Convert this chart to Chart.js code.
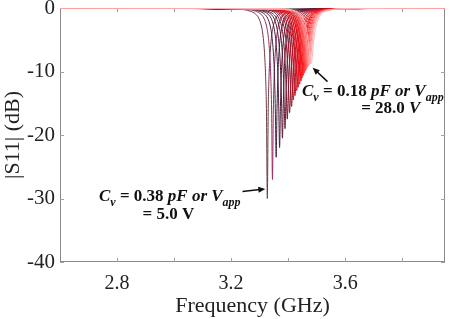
<!DOCTYPE html>
<html><head><meta charset="utf-8">
<script src="https://cdn.jsdelivr.net/npm/chart.js@4.4.1/dist/chart.umd.min.js"></script>
<style>html,body{margin:0;padding:0;background:#fff;}#wrap{width:450px;height:319px;position:relative}</style>
</head><body><div id="wrap"><canvas id="c" width="450" height="319"></canvas></div>
<script>
// ---- data ----
const voltages = [5,6,7,8,9,10,11,12,13,14,15,16,17,18,19,20,21,22,23,24,25,26,27,28];
// resonance frequency of each curve (GHz)
const centers = [3.327,3.345,3.358,3.370,3.380,3.389,3.397,3.405,3.412,3.418,3.424,3.430,
                 3.435,3.440,3.445,3.449,3.453,3.457,3.461,3.464,3.468,3.471,3.475,3.480];
// distance from the resonance (GHz) at which the half-profile values below are read
const halfOffsets = [0,0.003,0.006,0.01,0.014,0.02,0.03,0.04,0.06,0.1];
const farLevel = 0; // |S11| far from resonance (dB)
// |S11| (dB) half-profiles, centre outwards
const v05 = [-30,-16.4,-10.8,-7.0,-4.8,-3.0,-1.6,-1.0,-0.5,-0.2];
const v06 = [-27,-16.2,-10.7,-7.0,-4.8,-3.0,-1.6,-1.0,-0.5,-0.2];
const v07 = [-23.5,-15.8,-10.6,-6.9,-4.8,-3.0,-1.6,-1.0,-0.5,-0.2];
const v08 = [-22,-15.5,-10.5,-6.9,-4.8,-3.0,-1.6,-1.0,-0.5,-0.2];
const v09 = [-20.5,-15.1,-10.4,-6.8,-4.8,-3.0,-1.6,-1.0,-0.5,-0.2];
const v10 = [-19,-14.6,-10.3,-6.8,-4.7,-3.0,-1.6,-1.0,-0.5,-0.2];
const v11 = [-17.5,-14.0,-10.0,-6.7,-4.7,-2.9,-1.6,-0.9,-0.4,-0.2];
const v12 = [-16.5,-13.6,-9.9,-6.6,-4.6,-2.9,-1.6,-0.9,-0.4,-0.2];
const v13 = [-15.5,-13.0,-9.6,-6.5,-4.6,-2.9,-1.5,-0.9,-0.4,-0.2];
const v14 = [-14.5,-12.5,-9.4,-6.4,-4.5,-2.9,-1.5,-0.9,-0.4,-0.2];
const v15 = [-13.8,-12.0,-9.2,-6.3,-4.5,-2.8,-1.5,-0.9,-0.4,-0.2];
const v16 = [-13,-11.5,-8.9,-6.2,-4.4,-2.8,-1.5,-0.9,-0.4,-0.2];
const v17 = [-12.5,-11.1,-8.7,-6.1,-4.4,-2.8,-1.5,-0.9,-0.4,-0.2];
const v18 = [-12,-10.8,-8.5,-6.0,-4.3,-2.7,-1.5,-0.9,-0.4,-0.2];
const v19 = [-11.5,-10.4,-8.3,-5.9,-4.2,-2.7,-1.5,-0.9,-0.4,-0.2];
const v20 = [-11,-10.0,-8.1,-5.8,-4.2,-2.7,-1.4,-0.9,-0.4,-0.2];
const v21 = [-10.6,-9.7,-7.9,-5.7,-4.1,-2.6,-1.4,-0.9,-0.4,-0.2];
const v22 = [-10.2,-9.4,-7.7,-5.6,-4.1,-2.6,-1.4,-0.9,-0.4,-0.2];
const v23 = [-9.9,-9.1,-7.5,-5.5,-4.0,-2.6,-1.4,-0.9,-0.4,-0.2];
const v24 = [-9.6,-8.9,-7.4,-5.4,-4.0,-2.6,-1.4,-0.9,-0.4,-0.2];
const v25 = [-9.3,-8.6,-7.2,-5.3,-3.9,-2.5,-1.4,-0.8,-0.4,-0.2];
const v26 = [-9.1,-8.5,-7.1,-5.3,-3.9,-2.5,-1.4,-0.8,-0.4,-0.2];
const v27 = [-8.9,-8.3,-7.0,-5.2,-3.8,-2.5,-1.4,-0.8,-0.4,-0.2];
const v28 = [-8.8,-8.2,-6.9,-5.1,-3.8,-2.5,-1.3,-0.8,-0.4,-0.1];
const seriesValues = [v05,v06,v07,v08,v09,v10,v11,v12,v13,v14,v15,v16,v17,v18,v19,v20,v21,v22,v23,v24,v25,v26,v27,v28];

const xTickValues = [2.8,3.0,3.2,3.4,3.6,3.8];
const xLabelValues = [2.8,3.2,3.6];
const yTickValues = [0,-10,-20,-30,-40];
const xMin = 2.6, xMax = 3.95, yMin = -40, yMax = 0;

// ---- styles ----
const colors = ['#6b3b3f','#9a2a66','#402040','#4a1c38','#561a36','#641833','#741630','#86142c',
  '#981228','#aa1024','#bc0e20','#cc0c1c','#da0a18','#e60814','#f00610','#f8040c',
  '#ff1010','#ff2828','#ff4040','#ff5858','#ff7070','#ff8888','#ffa0a0','#ffb4b4'];
const FAM = '"Liberation Serif", "Times New Roman", serif';

const datasets = voltages.map((v, i) => {
  const half = seriesValues[i], c = centers[i];
  const pts = [{x: xMin, y: farLevel}];
  for (let j = half.length - 1; j >= 1; j--) pts.push({x: c - halfOffsets[j], y: half[j]});
  pts.push({x: c, y: half[0]});
  for (let j = 1; j < half.length; j++) pts.push({x: c + halfOffsets[j], y: half[j]});
  pts.push({x: xMax, y: farLevel});
  return {label: v + ' V', data: pts, borderColor: colors[i], borderWidth: 1,
    pointRadius: 0, fill: false, cubicInterpolationMode: 'monotone', order: voltages.length - i};
});

// annotations (anchored in data units)
const annotations = [
  {lines: [
     [{t:'C',it:1},{t:'v',it:1,sub:1},{t:' = 0.38 '},{t:'pF or V',it:1},{t:'app',it:1,sub:1}],
     [{t:'= 5.0 V'}]],
   textAt: [[2.985,-30.4],[2.980,-33.2]],
   arrowFrom: [3.240,-28.9], arrowTo: [3.320,-28.5]},
  {lines: [
     [{t:'C',it:1},{t:'v',it:1,sub:1},{t:' = 0.18 '},{t:'pF or V',it:1},{t:'app',it:1,sub:1}],
     [{t:'= 28.0 '},{t:'V',it:1}]],
   textAt: [[3.697,-13.8],[3.760,-16.5]],
   arrowFrom: [3.538,-11.6], arrowTo: [3.486,-9.4]}
];

function drawRich(ctx, segs, cx, baseline, size) {
  const fontOf = s => (s.it ? 'italic ' : '') + 'bold ' + (s.sub ? Math.round(size * 0.72) : size) + 'px ' + FAM;
  let w = 0;
  const ws = segs.map(s => { ctx.font = fontOf(s); const m = ctx.measureText(s.t).width; w += m; return m; });
  let x = cx - w / 2;
  segs.forEach((s, k) => { ctx.font = fontOf(s); ctx.fillText(s.t, x, baseline + (s.sub ? size * 0.3 : 0)); x += ws[k]; });
}
function drawArrow(ctx, x1, y1, x2, y2) {
  const a = Math.atan2(y2 - y1, x2 - x1), L = 7, W = 3;
  ctx.beginPath(); ctx.moveTo(x1, y1); ctx.lineTo(x2 - L * Math.cos(a) * 0.8, y2 - L * Math.sin(a) * 0.8); ctx.stroke();
  ctx.beginPath(); ctx.moveTo(x2, y2);
  ctx.lineTo(x2 - L * Math.cos(a) + W * Math.sin(a), y2 - L * Math.sin(a) - W * Math.cos(a));
  ctx.lineTo(x2 - L * Math.cos(a) - W * Math.sin(a), y2 - L * Math.sin(a) + W * Math.cos(a));
  ctx.closePath(); ctx.fill();
}

const framePlugin = {
  id: 'frame',
  beforeDatasetsDraw(chart) {
    const {ctx, chartArea: a, scales: {x, y}} = chart;
    ctx.save();
    ctx.strokeStyle = '#8a8a8a'; ctx.lineWidth = 1;
    ctx.strokeRect(Math.round(a.left) + 0.5, Math.round(a.top) + 0.5, Math.round(a.right - a.left) - 1, Math.round(a.bottom - a.top) - 1);
    ctx.strokeStyle = '#a0a0a0';
    ctx.beginPath();
    xTickValues.forEach(v => { const px = Math.round(x.getPixelForValue(v)) + 0.5;
      ctx.moveTo(px, a.bottom); ctx.lineTo(px, a.bottom - 4); ctx.moveTo(px, a.top); ctx.lineTo(px, a.top + 4); });
    yTickValues.forEach(v => { const py = Math.round(y.getPixelForValue(v)) + 0.5;
      ctx.moveTo(a.left, py); ctx.lineTo(a.left + 4, py); ctx.moveTo(a.right, py); ctx.lineTo(a.right - 4, py); });
    ctx.stroke();
    ctx.restore();
  },
  afterDatasetsDraw(chart) {
    const {ctx, scales: {x, y}} = chart;
    ctx.save();
    ctx.fillStyle = '#111'; ctx.strokeStyle = '#111'; ctx.lineWidth = 1.5;
    ctx.textBaseline = 'alphabetic'; ctx.textAlign = 'left';
    annotations.forEach(an => {
      an.lines.forEach((segs, k) => drawRich(ctx, segs, x.getPixelForValue(an.textAt[k][0]), y.getPixelForValue(an.textAt[k][1]), 17));
      drawArrow(ctx, x.getPixelForValue(an.arrowFrom[0]), y.getPixelForValue(an.arrowFrom[1]),
                     x.getPixelForValue(an.arrowTo[0]), y.getPixelForValue(an.arrowTo[1]));
    });
    ctx.restore();
  }
};

new Chart(document.getElementById('c'), {
  type: 'line',
  data: {datasets},
  options: {
    responsive: false, animation: false, parsing: true,
    layout: {padding: {top: 8, right: 5, left: 0, bottom: 0}},
    plugins: {legend: {display: false}, tooltip: {enabled: false}},
    scales: {
      x: {type: 'linear', min: xMin, max: xMax,
        grid: {display: false, drawTicks: false}, border: {display: false},
        afterBuildTicks: s => { s.ticks = xTickValues.map(v => ({value: v})); },
        ticks: {autoSkip: false, maxRotation: 0, padding: 10, color: '#222', font: {family: FAM, size: 20},
          callback: v => xLabelValues.includes(Math.round(v * 10) / 10) ? v.toFixed(1) : ''},
        title: {display: true, text: 'Frequency (GHz)', color: '#222', font: {family: FAM, size: 22}, padding: {top: 0, bottom: 0}},
        afterFit: s => { s.height = 57; s.paddingLeft = 0; s.paddingRight = 0; }
      },
      y: {type: 'linear', min: yMin, max: yMax,
        grid: {display: false, drawTicks: false}, border: {display: false},
        afterBuildTicks: s => { s.ticks = yTickValues.map(v => ({value: v})); },
        ticks: {padding: 5, color: '#222', font: {family: FAM, size: 21}, callback: v => String(v)},
        title: {display: true, text: '|S11| (dB)', color: '#222', font: {family: FAM, size: 22}, padding: {top: 0, bottom: 0}},
        afterFit: s => { s.width = 60; s.paddingTop = 0; s.paddingBottom = 0; }
      }
    }
  },
  plugins: [framePlugin]
});
</script>
</body></html>
